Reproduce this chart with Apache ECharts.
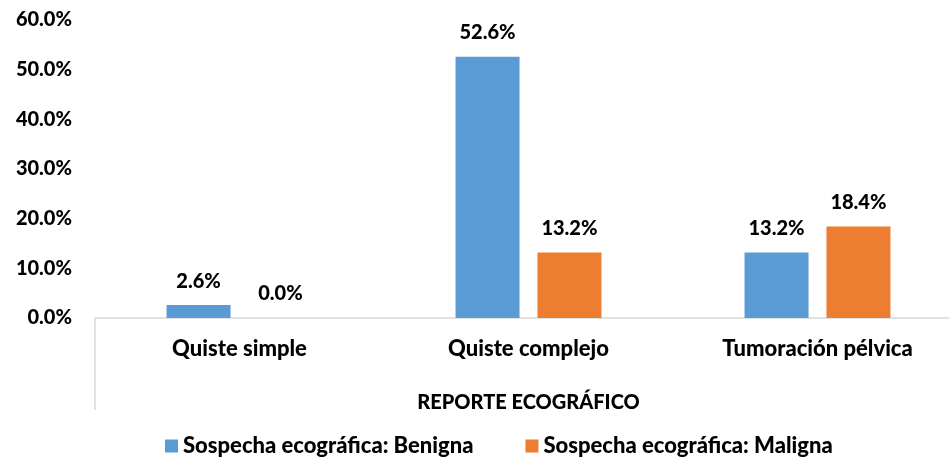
<!DOCTYPE html>
<html><head><meta charset="utf-8">
<script src="https://cdn.jsdelivr.net/npm/echarts@6/dist/echarts.min.js"></script>
<style>html,body{margin:0;padding:0;background:#fff;overflow:hidden}#c{width:965px;height:460px}</style>
</head><body><div id="c"></div>
<script>
const categories = ['Quiste simple', 'Quiste complejo', 'Tumoración pélvica'];
const seriesNames = ['Sospecha ecográfica: Benigna', 'Sospecha ecográfica: Maligna'];
const benigna = [2.6, 52.6, 13.2];
const maligna = [0.0, 13.2, 18.4];
const yTicks = [0, 10, 20, 30, 40, 50, 60];
const axisName = 'REPORTE ECOGRÁFICO';

const FONT = 'Lato';
const W = 900;
const chart = echarts.init(document.getElementById('c'));
const labelStyle = {show: true, position: 'top', distance: 14, fontFamily: FONT, fontWeight: W, fontSize: 20, color: '#000',
  formatter: p => p.value.toFixed(1) + '%'};
chart.setOption({
  animation: false,
  grid: {left: 95, top: 20, width: 867, height: 298, containLabel: false},
  legend: {top: 430, left: 160, itemWidth: 13, itemHeight: 13, itemGap: 52,
    textStyle: {fontFamily: FONT, fontWeight: W, fontSize: 22, color: '#000'},
    data: seriesNames.map(n => ({name: n, icon: 'rect'}))},
  xAxis: {type: 'category', data: categories,
    name: axisName, nameLocation: 'middle', nameGap: 75,
    nameTextStyle: {fontFamily: FONT, fontWeight: W, fontSize: 20, color: '#000'},
    axisLine: {lineStyle: {color: '#D9D9D9', width: 1.5}},
    axisTick: {show: false},
    axisLabel: {margin: 20, fontFamily: FONT, fontWeight: W, fontSize: 22, color: '#000'}},
  yAxis: {type: 'value', min: yTicks[0], max: yTicks[yTicks.length - 1], interval: 10,
    axisLine: {show: false}, axisTick: {show: false}, splitLine: {show: false},
    axisLabel: {margin: 23, fontFamily: FONT, fontWeight: W, fontSize: 20, color: '#000',
      formatter: v => v.toFixed(1) + '%'}},
  graphic: [{type: 'line', shape: {x1: 95, y1: 318, x2: 95, y2: 410}, style: {stroke: '#D9D9D9', lineWidth: 1.5}}],
  series: [
    {name: seriesNames[0], type: 'bar', data: benigna, barWidth: 64, barGap: '28%', itemStyle: {color: '#5B9BD5'}, label: labelStyle},
    {name: seriesNames[1], type: 'bar', data: maligna, barWidth: 64, itemStyle: {color: '#ED7D31'}, label: labelStyle}
  ]
});
</script></body></html>
